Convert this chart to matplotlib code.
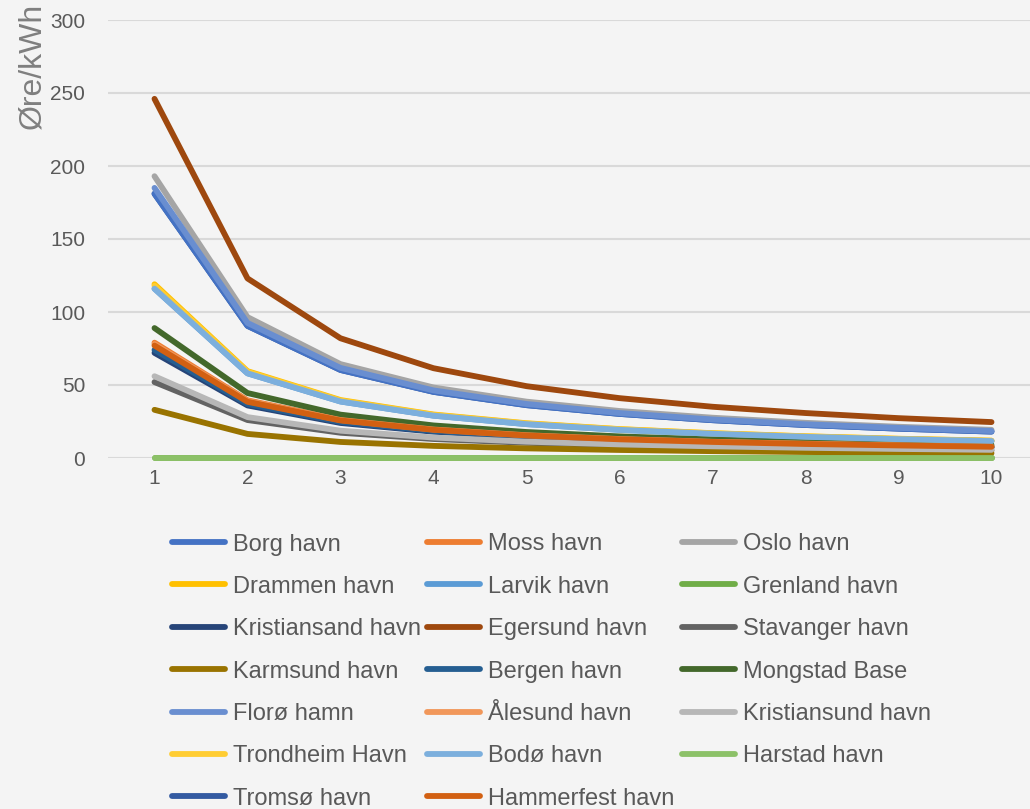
import matplotlib
matplotlib.use("Agg")
import matplotlib.pyplot as plt
from matplotlib.lines import Line2D

plt.rcParams['font.family'] = ['Liberation Sans', 'DejaVu Sans']

x_vals = [1, 2, 3, 4, 5, 6, 7, 8, 9, 10]

names = ["Borg havn", "Moss havn", "Oslo havn",
         "Drammen havn", "Larvik havn", "Grenland havn",
         "Kristiansand havn", "Egersund havn", "Stavanger havn",
         "Karmsund havn", "Bergen havn", "Mongstad Base",
         "Florø hamn", "Ålesund havn", "Kristiansund havn",
         "Trondheim Havn", "Bodø havn", "Harstad havn",
         "Tromsø havn", "Hammerfest havn"]

borg = [181, 90.5, 60.3, 45.3, 36.2, 30.2, 25.9, 22.6, 20.1, 18.1]
moss = [79, 39.5, 26.3, 19.8, 15.8, 13.2, 11.3, 9.9, 8.8, 7.9]
oslo = [193, 96.5, 64.3, 48.3, 38.6, 32.2, 27.6, 24.1, 21.4, 19.3]
drammen = [119, 59.5, 39.7, 29.8, 23.8, 19.8, 17.0, 14.9, 13.2, 11.9]
larvik = [116, 58, 38.7, 29, 23.2, 19.3, 16.6, 14.5, 12.9, 11.6]
grenland = [0, 0, 0, 0, 0, 0, 0, 0, 0, 0]
kristiansand = [72, 36, 24, 18, 14.4, 12, 10.3, 9, 8, 7.2]
egersund = [246, 123, 82, 61.5, 49.2, 41, 35.1, 30.8, 27.3, 24.6]
stavanger = [52, 26, 17.3, 13, 10.4, 8.7, 7.4, 6.5, 5.8, 5.2]
karmsund = [33, 16.5, 11, 8.3, 6.6, 5.5, 4.7, 4.1, 3.7, 3.3]
bergen = [74, 37, 24.7, 18.5, 14.8, 12.3, 10.6, 9.3, 8.2, 7.4]
mongstad = [89, 44.5, 29.7, 22.3, 17.8, 14.8, 12.7, 11.1, 9.9, 8.9]
floro = [185, 92.5, 61.7, 46.3, 37, 30.8, 26.4, 23.1, 20.6, 18.5]
alesund = [78, 39, 26, 19.5, 15.6, 13, 11.1, 9.8, 8.7, 7.8]
kristiansund = [56, 28, 18.7, 14, 11.2, 9.3, 8, 7, 6.2, 5.6]
trondheim = [118, 59, 39.3, 29.5, 23.6, 19.7, 16.9, 14.8, 13.1, 11.8]
bodo = [116, 58, 38.7, 29, 23.2, 19.3, 16.6, 14.5, 12.9, 11.6]
harstad = [0, 0, 0, 0, 0, 0, 0, 0, 0, 0]
tromso = [181, 90.5, 60.3, 45.3, 36.2, 30.2, 25.9, 22.6, 20.1, 18.1]
hammerfest = [77, 38.5, 25.7, 19.3, 15.4, 12.8, 11, 9.6, 8.6, 7.7]

series = [borg, moss, oslo, drammen, larvik, grenland, kristiansand, egersund,
          stavanger, karmsund, bergen, mongstad, floro, alesund, kristiansund,
          trondheim, bodo, harstad, tromso, hammerfest]

colors = ["#4472C4", "#ED7D31", "#A5A5A5", "#FFC000", "#5B9BD5", "#70AD47",
          "#264478", "#9E480E", "#636363", "#997300", "#255E91", "#43682B",
          "#698ED0", "#F1975A", "#B7B7B7", "#FFCD33", "#7CAFDD", "#8CC168",
          "#335AA1", "#D26012"]

yticks = [0, 50, 100, 150, 200, 250, 300]

bg = "#F4F4F4"
W, H = 1030, 809
fig = plt.figure(figsize=(W / 100, H / 100), dpi=100, facecolor=bg)
ax = fig.add_axes([108 / W, 1 - 458 / H, (W - 108) / W, (458 - 20) / H])
ax.set_facecolor(bg)

for i, (vals, c) in enumerate(zip(series, colors)):
    z = 2.5 if names[i] == "Tromsø havn" else 3 + i * 0.01
    ax.plot(x_vals, vals, color=c, lw=4.2, solid_capstyle='round',
            solid_joinstyle='round', zorder=z, clip_on=False)

ax.set_xlim(0.5, 0.5 + (W - 108) / 93.0)
ax.set_ylim(0, 300)
ax.set_yticks(yticks)
ax.set_xticks(x_vals)
ax.grid(axis='y', color="#D9D9D9", lw=1.5, zorder=0)
ax.grid(axis='x', visible=False)
for s in ax.spines.values():
    s.set_visible(False)
ax.tick_params(axis='both', length=0, labelsize=15, colors="#595959")
ax.tick_params(axis='y', pad=16.5)
ax.tick_params(axis='x', pad=8)

fig.text(32 / W, 1 - 66 / H, "Øre/kWh", rotation=90, ha='center', va='center',
         fontsize=23, color="#7F7F7F")

# legend
col_x = [172, 427, 682]
row_y0, row_dy = 542, 42.4
for i, (n, c) in enumerate(zip(names, colors)):
    r, cidx = divmod(i, 3)
    y = 1 - (row_y0 + r * row_dy) / H
    x0 = col_x[cidx]
    fig.add_artist(Line2D([x0 / W, (x0 + 53) / W], [y, y], color=c, lw=4.2,
                          solid_capstyle='round', transform=fig.transFigure))
    fig.text((x0 + 61) / W, y, n, ha='left', va='center_baseline', fontsize=17,
             color="#595959")

fig.savefig("out.png", dpi=100, facecolor=bg)
